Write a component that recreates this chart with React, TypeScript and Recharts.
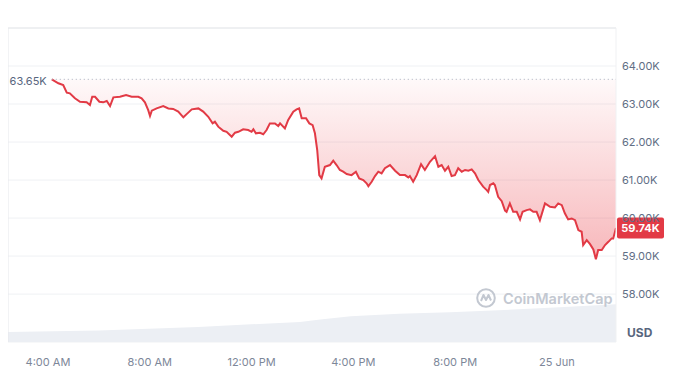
import {
  ComposedChart,
  Area,
  XAxis,
  YAxis,
  CartesianGrid,
  ReferenceLine,
} from 'recharts';

// hours since 00:00 on 24 Jun (24 = midnight, shown as "25 Jun")
const times = [
  4.15, 4.41, 4.6, 4.74, 4.86, 5.06, 5.26, 5.52, 5.65, 5.74,
  5.85, 6.02, 6.17, 6.31, 6.44, 6.57, 6.83, 7.07, 7.29, 7.55,
  7.68, 7.81, 7.94, 8.01, 8.08, 8.27, 8.53, 8.73, 8.92, 9.12,
  9.32, 9.45, 9.65, 9.91, 10.1, 10.3, 10.47, 10.56, 10.69, 10.89,
  11.02, 11.22, 11.35, 11.48, 11.67, 11.87, 12.0, 12.07, 12.17, 12.33,
  12.46, 12.59, 12.72, 12.92, 13.05, 13.12, 13.31, 13.44, 13.64, 13.77,
  13.87, 13.97, 14.14, 14.27, 14.4, 14.49, 14.58, 14.66, 14.75, 14.88,
  15.08, 15.21, 15.34, 15.47, 15.6, 15.74, 15.93, 16.1, 16.23, 16.39,
  16.52, 16.59, 16.72, 16.85, 16.98, 17.11, 17.24, 17.44, 17.64, 17.83,
  18.03, 18.16, 18.22, 18.35, 18.49, 18.66, 18.81, 19.01, 19.21, 19.34,
  19.47, 19.6, 19.73, 19.86, 19.99, 20.12, 20.26, 20.39, 20.52, 20.65,
  20.78, 20.91, 21.1, 21.24, 21.3, 21.37, 21.5, 21.56, 21.69, 21.83,
  21.96, 22.02, 22.15, 22.28, 22.42, 22.55, 22.65, 22.81, 22.94, 23.07,
  23.2, 23.33, 23.53, 23.73, 23.92, 24.05, 24.19, 24.31, 24.44, 24.58,
  24.71, 24.84, 24.97, 25.03, 25.17, 25.3, 25.43, 25.53, 25.62, 25.76,
  25.89, 26.02, 26.15, 26.21, 26.32,
];

const prices = [
  63650, 63545, 63500, 63300, 63280, 63150, 63060, 63045, 62975, 63190,
  63190, 63060, 63045, 63080, 62945, 63175, 63190, 63235, 63190, 63190,
  63150, 63045, 62840, 62685, 62825, 62885, 62945, 62885, 62870, 62800,
  62650, 62735, 62860, 62885, 62800, 62665, 62490, 62535, 62405, 62295,
  62270, 62140, 62245, 62270, 62335, 62315, 62270, 62335, 62230, 62245,
  62205, 62315, 62490, 62490, 62420, 62490, 62360, 62580, 62800, 62860,
  62885, 62625, 62625, 62490, 62445, 62230, 61790, 61130, 61045, 61350,
  61395, 61510, 61395, 61265, 61220, 61160, 61130, 61220, 61045, 61000,
  60915, 60840, 60955, 61105, 61220, 61175, 61310, 61395, 61245, 61130,
  61130, 61070, 61105, 60955, 61130, 61420, 61265, 61480, 61630, 61350,
  61395, 61245, 61350, 61105, 61130, 61310, 61220, 61265, 61245, 61280,
  61175, 61000, 60825, 60735, 60690, 60870, 60915, 60870, 60560, 60445,
  60195, 60165, 60385, 60165, 60165, 59965, 60165, 60210, 60230, 60165,
  60165, 59945, 60385, 60295, 60280, 60385, 60340, 60125, 59965, 59990,
  59945, 59685, 59640, 59290, 59420, 59315, 59175, 58915, 59160, 59160,
  59290, 59375, 59465, 59465, 59740,
];

// volume strip along the bottom (relative units)
const volTimes = [2.43, 6.0, 9.9, 13.9, 14.7, 15.9, 17.8, 19.8, 21.7, 24.1, 26.32];
const volValues = [3.2, 3.7, 4.8, 6.4, 7.2, 8.2, 9.0, 9.5, 10.1, 11.1, 12.0];

const xTicks = [4, 8, 12, 16, 20, 24];
const xTickLabels = ['4:00 AM', '8:00 AM', '12:00 PM', '4:00 PM', '8:00 PM', '25 Jun'];
const yTicks = [58000, 59000, 60000, 61000, 62000, 63000, 64000];

const openPrice = 63650;
const lastPrice = 59740;
const xDomain = [2.43, 26.32];
const priceDomain = [56740, 65000];

const RED = '#e23a45';

const priceData = times.map((t, i) => ({ t, price: prices[i] }));
const volData = volTimes.map((t, i) => ({ t, vol: volValues[i] }));

const fmtK = (v: number) => (v / 1000).toFixed(2) + 'K';

const PriceTag = (props: any) => {
  const vb = props.viewBox;
  if (!vb) return null;
  const x = vb.x + vb.width + 1;
  const y = vb.y;
  return (
    <g>
      <rect x={x} y={y - 10.5} width={47} height={21} rx={2} fill={RED} />
      <text
        x={x + 23.5}
        y={y}
        dy="0.35em"
        textAnchor="middle"
        fill="#fff"
        fontSize={11}
        fontWeight={700}
        fontFamily="Inter, sans-serif"
      >
        {fmtK(lastPrice)}
      </text>
    </g>
  );
};

export default function App() {
  return (
    <div style={{ position: 'relative', width: 657, height: 363, fontFamily: 'Inter, sans-serif' }}>
      <ComposedChart width={657} height={363} margin={{ top: 20, right: 0, bottom: 0, left: 0 }}>
        <defs>
          <linearGradient id="redFill" x1="0" y1="0" x2="0" y2="1">
            <stop offset="0%" stopColor="#ea3943" stopOpacity={0.03} />
            <stop offset="100%" stopColor="#ea3943" stopOpacity={0.36} />
          </linearGradient>
        </defs>
        <CartesianGrid vertical={false} stroke="#eff1f4" />
        <XAxis
          dataKey="t"
          type="number"
          domain={xDomain}
          ticks={xTicks}
          tickFormatter={(v: number) => xTickLabels[xTicks.indexOf(v)]}
          axisLine={false}
          tickLine={false}
          tickMargin={10}
          height={29}
          tick={{ fill: '#7d8799', fontSize: 11 }}
          allowDataOverflow
        />
        <YAxis
          orientation="right"
          type="number"
          domain={priceDomain}
          ticks={yTicks}
          tickFormatter={fmtK}
          axisLine={false}
          tickLine={false}
          tickMargin={0}
          width={49}
          tick={{ fill: '#616e85', fontSize: 11 }}
          allowDataOverflow
        />
        <YAxis yAxisId="vol" hide domain={[0, 100]} />
        <ReferenceLine y={65000} stroke="#e6e8eb" />
        <ReferenceLine x={xDomain[0]} stroke="#e6e8eb" />
        <ReferenceLine x={xDomain[1]} stroke="#f0f1f3" />
        <Area
          yAxisId="vol"
          data={volData}
          dataKey="vol"
          type="linear"
          stroke="none"
          fill="#eceff4"
          fillOpacity={1}
          isAnimationActive={false}
        />
        <ReferenceLine
          segment={[{ x: times[0], y: openPrice }, { x: xDomain[1], y: openPrice }]}
          stroke="#a7afbd"
          strokeDasharray="1 3"
          label={{ value: fmtK(openPrice), position: 'left', fill: '#58667e', fontSize: 11, offset: 5, dy: 2 }}
        />
        <Area
          data={priceData}
          dataKey="price"
          type="linear"
          baseValue={openPrice}
          stroke={RED}
          strokeWidth={2}
          fill="url(#redFill)"
          fillOpacity={1}
          dot={false}
          activeDot={false}
          isAnimationActive={false}
        />
        <ReferenceLine y={lastPrice} stroke="none" label={<PriceTag />} />
      </ComposedChart>
      <div
        style={{
          position: 'absolute',
          left: 619,
          top: 317,
          fontSize: 12,
          fontWeight: 700,
          color: '#58667e',
        }}
      >
        USD
      </div>
      <div
        style={{
          position: 'absolute',
          left: 468,
          top: 280,
          display: 'flex',
          alignItems: 'center',
          gap: 7,
          color: '#c3c8d1',
          fontSize: 14.5,
          fontWeight: 600,
        }}
      >
        <svg width={20} height={20} viewBox="0 0 20 20">
          <circle cx={10} cy={10} r={8.8} fill="none" stroke="#c3c8d1" strokeWidth={2} />
          <path d="M5 13 L7.5 7 L10 12 L12.5 7 L15 12.5" fill="none" stroke="#c3c8d1" strokeWidth={2} strokeLinejoin="round" />
        </svg>
        <span>CoinMarketCap</span>
      </div>
    </div>
  );
}
